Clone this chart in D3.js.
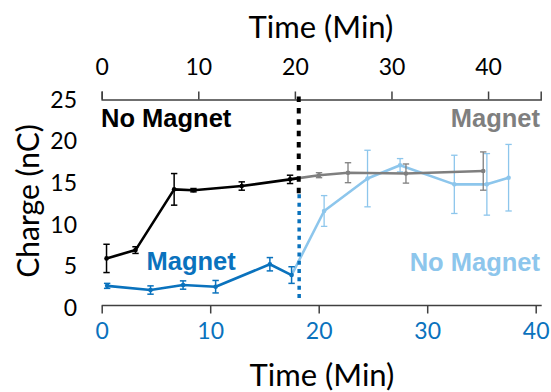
<!DOCTYPE html>
<html><head><meta charset="utf-8">
<script src="https://cdn.jsdelivr.net/npm/d3@7"></script>
<style>
html,body{margin:0;padding:0;background:#fff;}
svg{display:block;}
</style></head>
<body>
<svg id="chart" width="551" height="392"></svg>
<script>
// ---- data ----
// Top axis (black / gray): time in min
const noMagnetTime   = [0.5, 3.5, 7.5, 9.5, 14.5, 19.5];
const noMagnetCharge = [5.9, 6.9, 14.2, 14.1, 14.6, 15.4];
const noMagnetErr    = [1.7, 0.4, 1.9, 0.2, 0.5, 0.5];
const magnetAfterTime   = [22.5, 25.5, 31.5, 39.5];
const magnetAfterCharge = [15.9, 16.2, 16.1, 16.4];
const magnetAfterErr    = [0.3, 1.2, 1.15, 2.3];
// Bottom axis (blue / light blue)
const magnetTime   = [0.5, 4.5, 7.5, 10.5, 15.5, 17.5];
const magnetCharge = [2.6, 2.1, 2.7, 2.5, 5.2, 3.9];
const magnetErr    = [0.3, 0.5, 0.5, 0.75, 0.8, 1.0];
const noMagnetAfterTime   = [20.5, 24.5, 27.5, 32.5, 35.5, 37.5];
const noMagnetAfterCharge = [11.6, 15.5, 17.1, 14.8, 14.8, 15.6];
const noMagnetAfterErr    = [1.85, 3.4, 0.8, 3.5, 3.7, 4.0];
// switch moments
const topSwitch = 20.4, topSwitchRange = [25, 13.3];
const bottomSwitch = 18.2, bottomSwitchRange = [13.6, 0.9];
const xTicks = [0, 10, 20, 30, 40];
const yTicks = [0, 5, 10, 15, 20, 25];

const C = {black:"#000000", gray:"#7f7f7f", blue:"#0a72bd", light:"#8dc6ec", axis:"#404040"};

const svg = d3.select("#chart");
const xTop = d3.scaleLinear().domain([0, 45.45]).range([101.7, 540.7]);
const xBot = d3.scaleLinear().domain([0, 40]).range([101.7, 535.7]);
const y = d3.scaleLinear().domain([0, 25]).range([307.5, 99.5]);

const FONT = "Lato, 'Open Sans', sans-serif";
const BOLD = "'Liberation Sans', Arial, sans-serif";

// top axis
const gTop = svg.append("g").attr("transform","translate(0,99.5)")
  .call(d3.axisTop(xTop).tickValues(xTicks).tickSizeOuter(0).tickSize(8).tickPadding(17));
gTop.select(".domain").attr("stroke",C.axis).attr("stroke-width",1.5);
gTop.selectAll(".tick line").attr("stroke",C.axis).attr("stroke-width",1.5);
gTop.selectAll(".tick text").attr("font-family",FONT).attr("font-size",23).attr("fill","#000");

// bottom axis
const gBot = svg.append("g").attr("transform","translate(0,305.5)")
  .call(d3.axisBottom(xBot).tickValues(xTicks).tickSizeOuter(0).tickSize(8).tickPadding(9));
gBot.select(".domain").attr("stroke",C.axis).attr("stroke-width",1.5)
  .attr("d", `M${xBot(0)},0H${xBot.range()[1]+6}`);
gBot.selectAll(".tick line").attr("stroke",C.axis).attr("stroke-width",1.5);
gBot.selectAll(".tick text").attr("font-family",FONT).attr("font-size",23).attr("fill",C.blue);

// y tick labels (no axis line)
svg.append("g").selectAll("text").data(yTicks).join("text")
  .attr("x",77).attr("y",d=>y(d)+8.3).attr("text-anchor","end")
  .attr("font-family",FONT).attr("font-size",23).attr("fill","#000").text(d=>d);

// titles
svg.append("text").attr("x",321).attr("y",37.5).attr("text-anchor","middle")
  .attr("font-family",FONT).attr("font-size",31).text("Time (Min)");
svg.append("text").attr("x",322).attr("y",386).attr("text-anchor","middle")
  .attr("font-family",FONT).attr("font-size",31).text("Time (Min)");
svg.append("text").attr("transform","translate(39,201) rotate(-90)").attr("text-anchor","middle")
  .attr("font-family",FONT).attr("font-size",30).text("Charge (nC)");

function drawLine(pts, color, lw, clip){
  const p = svg.append("path").datum(pts)
    .attr("d", d3.line().x(d=>d.x).y(d=>y(d.v)))
    .attr("fill","none").attr("stroke",color).attr("stroke-width",lw).attr("stroke-linejoin","round");
  if(clip) p.attr("clip-path",`url(#${clip})`);
}
function drawErr(pts, color, w){
  const g = svg.append("g").attr("stroke",color).attr("stroke-width",w);
  pts.filter(d=>d.e>0).forEach(d=>{
    g.append("line").attr("x1",d.x).attr("x2",d.x).attr("y1",y(d.v-d.e)).attr("y2",y(d.v+d.e));
    g.append("line").attr("x1",d.x-3.2).attr("x2",d.x+3.2).attr("y1",y(d.v-d.e)).attr("y2",y(d.v-d.e));
    g.append("line").attr("x1",d.x-3.2).attr("x2",d.x+3.2).attr("y1",y(d.v+d.e)).attr("y2",y(d.v+d.e));
  });
}
function drawDots(pts, color){
  svg.append("g").selectAll("circle").data(pts).join("circle")
    .attr("cx",d=>d.x).attr("cy",d=>y(d.v)).attr("r",2.3).attr("fill",color);
}
const mk = (xs, ts, vs, es)=>ts.map((t,i)=>({x:xs(t), v:vs[i], e:es[i]}));

const black = mk(xTop, noMagnetTime, noMagnetCharge, noMagnetErr);
const gray = mk(xTop, magnetAfterTime, magnetAfterCharge, magnetAfterErr);
const blue = mk(xBot, magnetTime, magnetCharge, magnetErr);
const light = mk(xBot, noMagnetAfterTime, noMagnetAfterCharge, noMagnetAfterErr);
const grayLine = [{x:black[black.length-1].x, v:black[black.length-1].v, e:0}, ...gray];
const lightLine = [{x:blue[blue.length-1].x, v:blue[blue.length-1].v, e:0}, ...light];

svg.append("defs").append("clipPath").attr("id","leftTop").append("rect")
  .attr("x",0).attr("y",0).attr("width",xTop(topSwitch)).attr("height",392);

// light blue
drawLine(lightLine, C.light, 2.6);
drawErr(light, C.light, 1.3);
drawDots(light, C.light);
// gray
drawLine(grayLine, C.gray, 2.6);
drawErr(gray, C.gray, 1.3);
drawDots(gray, C.gray);
drawLine(grayLine, C.black, 2.6, "leftTop");
// blue
drawLine(blue, C.blue, 2.6);
drawErr(blue, C.blue, 1.5);
drawDots(blue, C.blue);
// black
drawLine(black, C.black, 2.6);
drawErr(black, C.black, 1.5);
drawDots(black, C.black);

// switch lines
svg.append("line").attr("x1",xTop(topSwitch)).attr("x2",xTop(topSwitch))
  .attr("y1",y(topSwitchRange[0])-3).attr("y2",y(topSwitchRange[1]))
  .attr("stroke","#000").attr("stroke-width",4).attr("stroke-dasharray","5.5,5.9");
svg.append("line").attr("x1",xBot(bottomSwitch)).attr("x2",xBot(bottomSwitch))
  .attr("y1",y(bottomSwitchRange[0])).attr("y2",y(bottomSwitchRange[1]))
  .attr("stroke",C.blue).attr("stroke-width",3.5).attr("stroke-dasharray","4,4.3");

// annotations
svg.append("text").attr("x",101).attr("y",127).attr("font-family",BOLD).attr("font-weight","bold")
  .attr("font-size",25.5).attr("fill",C.black).text("No Magnet");
svg.append("text").attr("x",540).attr("y",127).attr("text-anchor","end").attr("font-family",BOLD).attr("font-weight","bold")
  .attr("font-size",25.5).attr("fill",C.gray).text("Magnet");
svg.append("text").attr("x",146.5).attr("y",270).attr("font-family",BOLD).attr("font-weight","bold")
  .attr("font-size",25.5).attr("fill",C.blue).text("Magnet");
svg.append("text").attr("x",540).attr("y",270.5).attr("text-anchor","end").attr("font-family",BOLD).attr("font-weight","bold")
  .attr("font-size",25.5).attr("fill",C.light).text("No Magnet");
</script>
</body></html>
